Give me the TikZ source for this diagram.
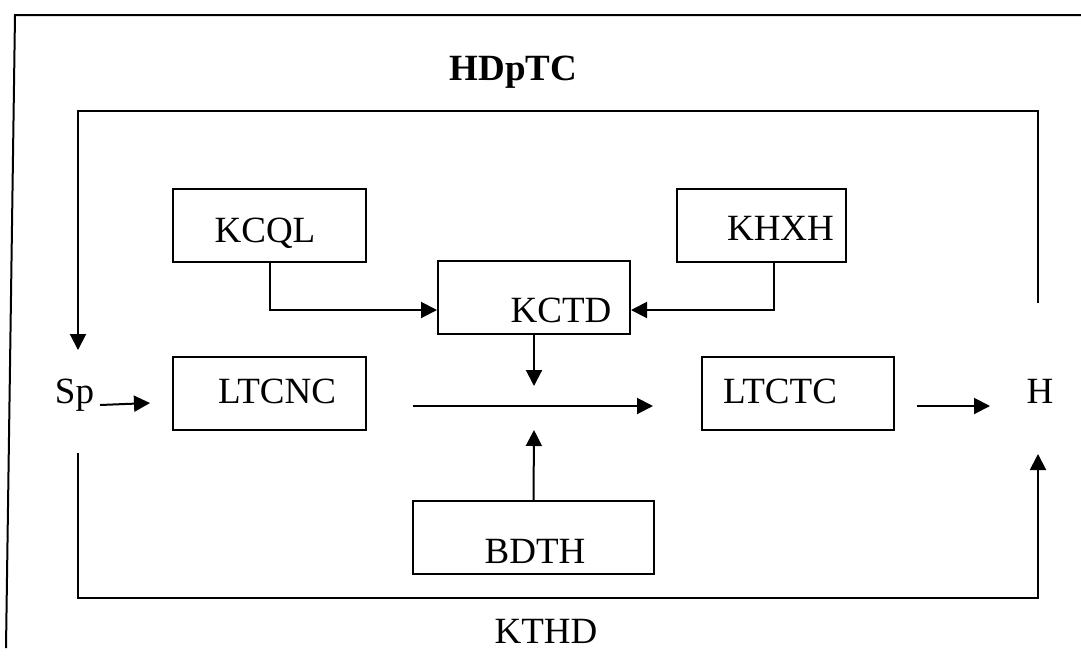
\documentclass[tikz,border=0pt]{standalone}
\usepackage{fontspec}
\setmainfont{Liberation Serif}
\usetikzlibrary{arrows.meta}
\begin{document}
\begin{tikzpicture}[x=0.5pt,y=-0.5pt,line width=1pt,
  >={Triangle[length=8pt,width=8pt]},
  blk/.style={draw,rectangle,inner sep=0pt,minimum height=73*\u},
  txt/.style={anchor=base,inner sep=0pt,font=\fontsize{18.5}{22}\selectfont}]
\def\u{0.5pt};
\useasboundingbox (0,0) rectangle (1081,655);
\draw (1081,15) -- (15,15) -- (6,648);
% blocks
\node[blk,minimum width=193*\u] (KCQL) at (269.5,225) {};
\node[blk,minimum width=169*\u] (KHXH) at (761.5,225.5) {};
\node[blk,minimum width=192*\u] (KCTD) at (534,297.5) {};
\node[blk,minimum width=193*\u] (LTCNC) at (269.5,393.5) {};
\node[blk,minimum width=192*\u] (LTCTC) at (798,393.5) {};
\node[blk,minimum width=241*\u] (BDTH) at (533.5,537.5) {};
% texts
\node[txt] (tKCQL) at (265,242) {KCQL};
\node[txt] (tKHXH) at (780.5,240) {KHXH};
\node[txt] (tKCTD) at (561,322) {KCTD};
\node[txt] (tLTCNC) at (277,403) {LTCNC};
\node[txt] (tLTCTC) at (780,403) {LTCTC};
\node[txt] (tBDTH) at (535,563) {BDTH};
\node[txt] (Sp) at (74.5,403) {Sp};
\node[txt] (H) at (1040,403) {H};
\node[txt,font=\fontsize{18.5}{22}\selectfont\bfseries] (HDpTC) at (513.5,80) {HDpTC};
\node[txt] (KTHD) at (546,643) {KTHD};
% free ends
\coordinate (fbA) at (1038,303);
\coordinate (fbB) at (78,350);
\coordinate (fbC) at (78,453);
\coordinate (fbD) at (1038,454);
\coordinate (spA) at (100,405);
\coordinate (spB) at (150,403);
\coordinate (mA) at (413,406);
\coordinate (mB) at (653,406);
\coordinate (mT) at (534,386);
\coordinate (mD) at (534,430);
\coordinate (hA) at (917,406);
\coordinate (hB) at (990,406);
% connectors
\draw[->] (KCQL.south) |- ([yshift=-6.25pt]KCTD.west);
\draw[->] ([xshift=6.25pt]KHXH.south) |- ([yshift=-6.25pt]KCTD.east);
\draw[->] (KCTD.south) -- (mT);
\draw[->] (BDTH.north) -- (mD);
\draw[->] (mA) -- (mB);
\draw[->] (spA) -- (spB);
\draw[->] (hA) -- (hB);
\draw[->] (fbA) -- (1038,111) -- (78,111) -- (fbB);
\draw[->] (fbC) -- (78,598) -- (1038,598) -- (fbD);
\end{tikzpicture}
\end{document}
